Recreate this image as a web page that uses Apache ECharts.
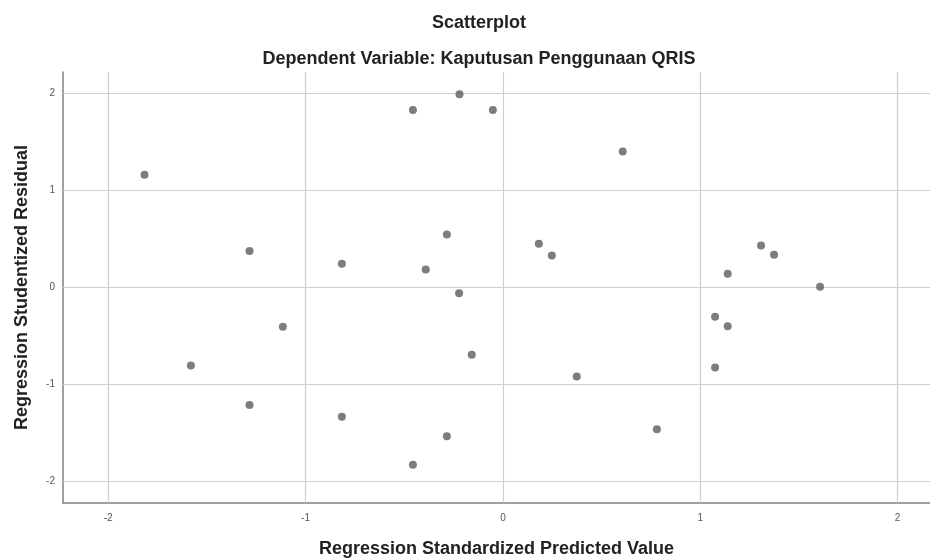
<!DOCTYPE html>
<html><head><meta charset="utf-8">
<script src="https://cdn.jsdelivr.net/npm/echarts@6/dist/echarts.min.js"></script>
<style>html,body{margin:0;padding:0;background:#fff}#c{width:930px;height:560px}</style>
</head><body><div id="c"></div>
<script>
const predicted = [-0.22,-0.456,-0.051,-1.816,-1.284,-0.816,-0.284,-0.391,-0.222,0.182,0.607,0.248,1.308,1.374,1.139,1.607,1.075,-1.115,-1.581,-1.284,-0.816,-0.284,-0.456,-0.158,0.374,0.78,1.139,1.075];
const residual = [1.99,1.827,1.827,1.16,0.375,0.244,0.546,0.185,-0.058,0.45,1.40,0.33,0.433,0.337,0.141,0.007,-0.30,-0.405,-0.803,-1.211,-1.332,-1.531,-1.826,-0.693,-0.917,-1.459,-0.398,-0.824];
const xTicks = [-2,-1,0,1,2];
const yTicks = [-2,-1,0,1,2];

const chart = echarts.init(document.getElementById('c'));
const font = 'Liberation Sans, Arial, sans-serif';
const gridLines = xTicks.map(v => ({xAxis: v})).concat(yTicks.map(v => ({yAxis: v})));
chart.setOption({
  animation: false,
  title: [
    {text: 'Scatterplot', left: 474, top: 9, textAlign: 'center',
     textStyle: {fontFamily: font, fontSize: 18, fontWeight: 'bold', color: '#222'}},
    {text: 'Dependent Variable: Kaputusan Penggunaan QRIS', left: 474, top: 45, textAlign: 'center',
     textStyle: {fontFamily: font, fontSize: 18, fontWeight: 'bold', color: '#222'}}
  ],
  grid: {left: 63, right: 0, top: 72, bottom: 57, outerBoundsMode: 'none', containLabel: false},
  xAxis: {
    type: 'value', min: -2.229, max: 2.164,
    name: 'Regression Standardized Predicted Value', nameLocation: 'middle', nameGap: 37,
    nameTextStyle: {fontFamily: font, fontSize: 18, fontWeight: 'bold', color: '#222'},
    axisLine: {show: true, onZero: false, lineStyle: {color: '#808080', width: 1.5}},
    axisTick: {show: false},
    splitLine: {show: false},
    axisLabel: {customValues: xTicks, fontFamily: font, fontSize: 10, color: '#555', margin: 10}
  },
  yAxis: {
    type: 'value', min: -2.219, max: 2.219,
    name: 'Regression Studentized Residual', nameLocation: 'middle', nameGap: 32,
    nameTextStyle: {fontFamily: font, fontSize: 18, fontWeight: 'bold', color: '#222'},
    axisLine: {show: true, onZero: false, lineStyle: {color: '#808080', width: 1.5}},
    axisTick: {show: false},
    splitLine: {show: false},
    axisLabel: {customValues: yTicks, fontFamily: font, fontSize: 10, color: '#555', margin: 8}
  },
  series: [{
    type: 'scatter',
    data: predicted.map((x, i) => [x, residual[i]]),
    symbol: 'circle', symbolSize: 8,
    itemStyle: {color: '#5c5c5c'},
    z: 5,
    markLine: {
      silent: true, symbol: ['none', 'none'],
      label: {show: false},
      lineStyle: {color: '#cfcfcf', type: 'solid', width: 1.2},
      data: gridLines,
      z: 1
    }
  }]
});
</script></body></html>
